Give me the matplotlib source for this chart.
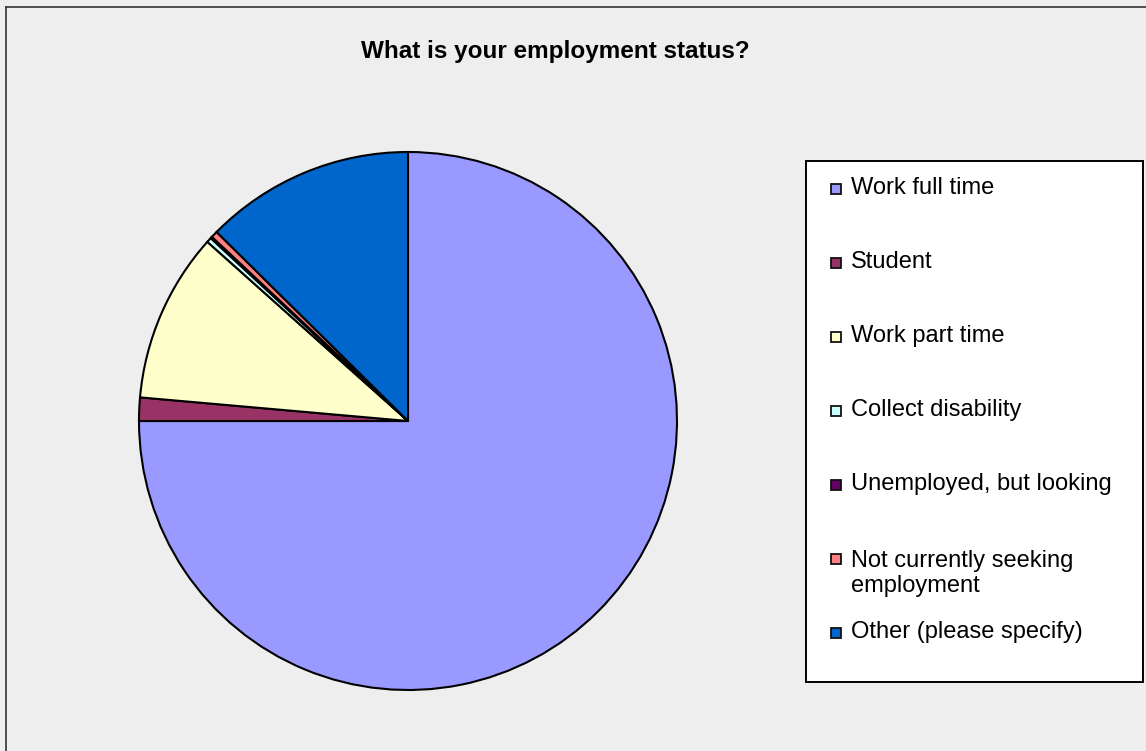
import matplotlib.pyplot as plt
from matplotlib.patches import Rectangle
from matplotlib.lines import Line2D

plt.rcParams['font.family'] = ['Liberation Sans', 'DejaVu Sans']

# Survey answers (share of respondents, %)
categories = ['Work full time', 'Student', 'Work part time', 'Collect disability',
              'Unemployed, but looking', 'Not currently seeking\nemployment',
              'Other (please specify)']
shares = [75.0, 1.4, 10.2, 0.3, 0.1, 0.4, 12.6]
colors = ['#9999ff', '#993366', '#ffffcc', '#ccffff', '#660066', '#ff8080', '#0066cc']

W, H = 1146, 751
bg = '#eeeeee'


def fx(px):
    return px / W


def fy(py):
    return 1 - py / H


fig = plt.figure(figsize=(W / 100, H / 100), dpi=100, facecolor=bg)

# pie area: centre (408, 421), radius ~269 px
ax = fig.add_axes([fx(139), fy(690), 538 / W, 538 / H])
ax.pie(shares, colors=colors, startangle=90, counterclock=False,
       wedgeprops=dict(edgecolor='black', linewidth=1.5))
ax.set_xlim(-1, 1)
ax.set_ylim(-1, 1)
ax.set_aspect('equal')
ax.axis('off')

fig.text(fx(555), fy(58), 'What is your employment status?', ha='center',
         va='baseline', fontsize=17.5, fontweight='bold')

# chart frame (top and left edges only)
fig.add_artist(Line2D([fx(5.5), fx(5.5)], [0, fy(7)], color='#333333', lw=1.2,
                      transform=fig.transFigure))
fig.add_artist(Line2D([fx(5.5), 1], [fy(7), fy(7)], color='#333333', lw=1.2,
                      transform=fig.transFigure))

# legend box
fig.add_artist(Rectangle((fx(806), fy(682)), fx(1143) - fx(806), fy(161) - fy(682),
                         facecolor='white', edgecolor='black', lw=1.4,
                         transform=fig.transFigure))
step = 74
line_h = 28
for i, (lab, col) in enumerate(zip(categories, colors)):
    base = 194 + i * step
    fig.add_artist(Rectangle((fx(830.5), fy(base)), 10 / W, 10 / H, facecolor=col,
                             edgecolor='#111111', lw=1.3, transform=fig.transFigure))
    # multi-line labels: baseline alignment goes to the last line
    extra = lab.count('\n') * line_h
    fig.text(fx(851), fy(base + extra), lab, ha='left', va='baseline',
             fontsize=17, linespacing=1.2)

fig.savefig('out.png', dpi=100, facecolor=bg)
